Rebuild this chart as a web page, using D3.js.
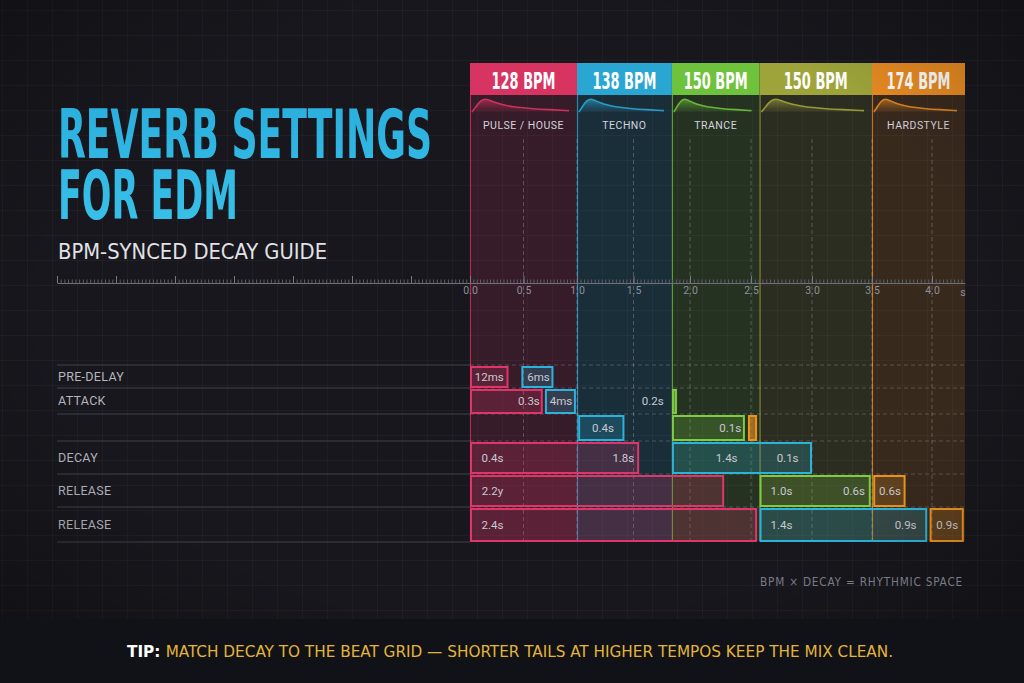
<!DOCTYPE html>
<html><head><meta charset="utf-8">
<script src="https://cdn.jsdelivr.net/npm/d3@7"></script>
<style>
html,body{margin:0;padding:0;background:#17171d;overflow:hidden;}
svg{display:block;}
</style></head><body>
<svg id="chart" width="1024" height="683"></svg>
<script>
// ---------- data ----------
const bpmLabels   = ["128 BPM","138 BPM","150 BPM","150 BPM","174 BPM"];
const genreLabels = ["PULSE / HOUSE","TECHNO","TRANCE","","HARDSTYLE"];
const bandStart   = [0, 1.0, 1.84, 2.57, 3.5];
const bandEnd     = [1.0, 1.84, 2.57, 3.5, 4.28];
const rowLabels   = ["PRE-DELAY","ATTACK","","DECAY","RELEASE","RELEASE"];
const tickValues  = [0,0.5,1,1.5,2,2.5,3,3.5,4];
const tickLabels  = ["0.0","0.5","1.0","1.5","2.0","2.5","3.0","3.5","4.0"];

const barRow   = [0,0,1,1,1,2,2,2,3,3,4,4,4,5,5,5];
const barStart = [0,0.48,0,0.70,1.84,1.01,1.84,2.475,0,1.84,0,2.57,3.51,0,2.57,3.98];
const barEnd   = [0.36,0.78,0.68,0.99,1.87,1.42,2.45,2.55,1.55,3.0,2.28,3.49,3.78,2.55,3.96,4.27];
const barGenre = [0,1,0,1,2,1,2,4,0,1,0,2,4,0,1,4];

const valueRow  = [0,0,1,1,1,2,2,3,3,3,3,4,4,4,4,5,5,5,5];
const valueAt   = [0.18,0.64,0.55,0.85,1.67,1.23,2.33,0.21,1.41,2.30,2.80,0.21,2.75,3.35,3.65,0.21,2.75,3.78,4.13];
const valueText = ["12ms","6ms","0.3s","4ms","0.2s","0.4s","0.1s","0.4s","1.8s","1.4s","0.1s","2.2y","1.0s","0.6s","0.6s","2.4s","1.4s","0.9s","0.9s"];

const envelopeShape = [[0,0],[0.04,0.4],[0.09,0.85],[0.14,1],[0.2,0.82],[0.3,0.55],[0.42,0.38],[0.6,0.26],[0.8,0.17],[1,0.1]];

// ---------- style ----------
const headColors = ["#d73461","#2aa6d2","#6fc23c","#9ea43a","#e88b22"];
const barColors  = ["#e0356b","#2ab4dc","#7dcc41","#a9ae3c","#eb931f"];
const condensed = "'DejaVu Sans Condensed','Liberation Sans Narrow','DejaVu Sans',sans-serif";
const sans = "Roboto,'Noto Sans',sans-serif";

const W = 1024, H = 683;
const svg = d3.select("#chart");
const defs = svg.append("defs");

// scales
const x = d3.scaleLinear()
  .domain([-3.5,0,1,2,3,4,4.28])
  .range([57,470,577,690,812,932,965]);
const y = d3.scaleLinear()
  .domain([0,1,2,3,4,5,6])
  .range([365,388,414,441,474,507,542]);
const bandTop = 95, headTop = 63, bandBottom = 541;

// background
svg.append("rect").attr("width",W).attr("height",H).attr("fill","#17171d");
const vg = defs.append("radialGradient").attr("id","vig").attr("cx","50%").attr("cy","45%").attr("r","75%");
vg.append("stop").attr("offset","0.6").attr("stop-color","#000").attr("stop-opacity",0);
vg.append("stop").attr("offset","1").attr("stop-color","#000").attr("stop-opacity",0.35);
const tg = defs.append("linearGradient").attr("id","titleGrad").attr("x1",0).attr("x2",0).attr("y1",0).attr("y2",1);
tg.append("stop").attr("offset",0).attr("stop-color","#2aaedd");
tg.append("stop").attr("offset",1).attr("stop-color","#3ac2ea");

// background grid
const grid = svg.append("g").attr("stroke","rgba(255,255,255,0.03)").attr("stroke-width",1);
grid.selectAll("line.v").data(d3.range(2, W, 25)).join("line")
  .attr("x1",d=>d+0.5).attr("x2",d=>d+0.5).attr("y1",0).attr("y2",619);
grid.selectAll("line.h").data(d3.range(10, 619, 25)).join("line")
  .attr("x1",0).attr("x2",W).attr("y1",d=>d+0.5).attr("y2",d=>d+0.5);

// bands
const bands = svg.append("g");
bands.selectAll("rect.band").data(bandStart).join("rect")
  .attr("x",(d,i)=>x(d)).attr("y",bandTop)
  .attr("width",(d,i)=>x(bandEnd[i])-x(d)).attr("height",bandBottom-bandTop)
  .attr("fill",(d,i)=>headColors[i]).attr("fill-opacity",0.16);
bands.selectAll("line.edge").data(bandStart).join("line")
  .attr("x1",d=>x(d)+0.5).attr("x2",d=>x(d)+0.5)
  .attr("y1",bandTop).attr("y2",bandBottom)
  .attr("stroke",(d,i)=>headColors[i]).attr("stroke-opacity",0.75).attr("stroke-width",1.2);
// headers
bands.selectAll("rect.head").data(bandStart).join("rect")
  .attr("x",(d,i)=>x(d)).attr("y",headTop)
  .attr("width",(d,i)=>x(bandEnd[i])-x(d)).attr("height",bandTop-headTop)
  .attr("fill",(d,i)=>headColors[i]);
bands.selectAll("text.bpm").data(bpmLabels).join("text")
  .attr("x",(d,i)=>(x(bandStart[i])+x(bandEnd[i]))/2).attr("y",88.5)
  .attr("text-anchor","middle").attr("fill","#fff")
  .attr("font-family",condensed).attr("font-weight","bold").attr("font-size",23)
  .attr("textLength",64).attr("lengthAdjust","spacingAndGlyphs")
  .text(d=>d);

// envelopes
bandStart.forEach((s,i)=>{
  const g = defs.append("linearGradient").attr("id","env"+i).attr("x1",0).attr("x2",0).attr("y1",0).attr("y2",1);
  g.append("stop").attr("offset",0).attr("stop-color",headColors[i]).attr("stop-opacity",0.6);
  g.append("stop").attr("offset",1).attr("stop-color",headColors[i]).attr("stop-opacity",0.05);
  const x0 = x(s)+2, x1 = x(bandEnd[i])-8;
  const ex = d3.scaleLinear().domain([0,1]).range([x0,x1]);
  const ey = d3.scaleLinear().domain([0,1]).range([112,98.5]);
  const area = d3.area().x(d=>ex(d[0])).y0(112).y1(d=>ey(d[1])).curve(d3.curveBasis);
  const line = d3.line().x(d=>ex(d[0])).y(d=>ey(d[1])).curve(d3.curveBasis);
  bands.append("path").datum(envelopeShape).attr("d",area).attr("fill","url(#env"+i+")");
  bands.append("path").datum(envelopeShape).attr("d",line).attr("fill","none")
    .attr("stroke",headColors[i]).attr("stroke-width",1.6).attr("stroke-opacity",0.9);
});
bands.selectAll("text.genre").data(genreLabels).join("text")
  .attr("x",(d,i)=>(x(bandStart[i])+x(bandEnd[i]))/2).attr("y",129)
  .attr("text-anchor","middle").attr("fill","#d4d4db")
  .attr("font-family",sans).attr("font-size",10.5).attr("letter-spacing",0.5)
  .text(d=>d);

// vertical dashed lines at ticks
svg.append("g").selectAll("line").data(tickValues.slice(1)).join("line")
  .attr("x1",d=>x(d)).attr("x2",d=>x(d)).attr("y1",139).attr("y2",bandBottom)
  .attr("stroke","rgba(255,255,255,0.22)").attr("stroke-width",1).attr("stroke-dasharray","4,3");

// ruler axis
const minorVals = d3.range(-3.5, 4.28, 0.03125);
const majorVals = d3.range(-3.5, 4.01, 0.5);
const minorAxis = svg.append("g").attr("transform","translate(0,283)")
  .call(d3.axisTop(x).tickValues(minorVals).tickSize(3.5).tickSizeOuter(0).tickFormat(""));
const majorAxis = svg.append("g").attr("transform","translate(0,283)")
  .call(d3.axisTop(x).tickValues(majorVals).tickSize(7).tickSizeOuter(0).tickFormat(""));
majorAxis.select(".domain").remove();
minorAxis.selectAll(".tick text").remove();
majorAxis.selectAll(".tick text").remove();
minorAxis.select(".domain").attr("stroke","#70707b").attr("stroke-width",1.2);
minorAxis.selectAll(".tick line").attr("stroke","#5f5f6a");
majorAxis.selectAll(".tick line").attr("stroke","#7a7a85");
const labelAxis = svg.append("g").attr("transform","translate(0,285)")
  .call(d3.axisBottom(x).tickValues(tickValues).tickSize(0).tickPadding(2)
    .tickFormat((d,i)=>tickLabels[i]));
labelAxis.select(".domain").remove();
labelAxis.selectAll("text").attr("fill","#8c909a").attr("font-family",sans).attr("font-size",10.5);
svg.append("text").attr("x",963).attr("y",296).attr("text-anchor","middle")
  .attr("fill","#8c909a").attr("font-family",sans).attr("font-size",10.5).text("s");

// row lines
const rowB = d3.range(0,7);
svg.append("g").selectAll("line").data(rowB).join("line")
  .attr("x1",57).attr("x2",470).attr("y1",d=>y(d)).attr("y2",d=>y(d))
  .attr("stroke","#34343d").attr("stroke-width",1.5);
svg.append("g").selectAll("line").data(rowB.slice(0,6)).join("line")
  .attr("x1",470).attr("x2",965).attr("y1",d=>y(d)).attr("y2",d=>y(d))
  .attr("stroke","rgba(255,255,255,0.2)").attr("stroke-width",1).attr("stroke-dasharray","4,3");

// row labels
svg.append("g").selectAll("text").data(rowLabels).join("text")
  .attr("x",58).attr("y",(d,i)=>(y(i)+y(i+1))/2+4)
  .attr("fill","#b5b5bd").attr("font-family",sans).attr("font-size",12.5).attr("letter-spacing",0.3)
  .text(d=>d);

// bars
svg.append("g").selectAll("rect").data(barStart).join("rect")
  .attr("x",(d,i)=>x(d)+1)
  .attr("y",(d,i)=>y(barRow[i])+2)
  .attr("width",(d,i)=>Math.max(3, x(barEnd[i])-x(d)-2))
  .attr("height",(d,i)=>y(barRow[i]+1)-y(barRow[i])-3)
  .attr("fill",(d,i)=>barColors[barGenre[i]])
  .attr("fill-opacity",(d,i)=> (x(barEnd[i])-x(d)) < 12 ? 0.6 : 0.22)
  .attr("stroke",(d,i)=>barColors[barGenre[i]]).attr("stroke-width",2);

// value labels
svg.append("g").selectAll("text").data(valueText).join("text")
  .attr("x",(d,i)=>x(valueAt[i]))
  .attr("y",(d,i)=>(y(valueRow[i])+y(valueRow[i]+1))/2+4)
  .attr("text-anchor","middle").attr("fill","#c9c9d1")
  .attr("font-family",sans).attr("font-size",11.5)
  .text(d=>d);

// vignette
svg.append("rect").attr("width",W).attr("height",H).attr("fill","url(#vig)").attr("pointer-events","none");

// title (one text block, two lines)
const title = svg.append("text").attr("fill","url(#titleGrad)")
  .attr("font-family",condensed).attr("font-weight","bold").attr("font-size",67);
title.append("tspan").attr("x",58).attr("y",158)
  .attr("textLength",374).attr("lengthAdjust","spacingAndGlyphs").text("REVERB SETTINGS");
title.append("tspan").attr("x",58).attr("y",219)
  .attr("textLength",180).attr("lengthAdjust","spacingAndGlyphs").text("FOR EDM");
svg.append("text").attr("x",58).attr("y",259).attr("fill","#e2e2e6")
  .attr("font-family",condensed).attr("font-size",22)
  .attr("textLength",269).attr("lengthAdjust","spacingAndGlyphs").text("BPM-SYNCED DECAY GUIDE");

// formula note
svg.append("text").attr("x",963).attr("y",586).attr("text-anchor","end").attr("fill","#7b7b86")
  .attr("font-family",condensed).attr("font-size",11.5).attr("letter-spacing",0.8)
  .attr("textLength",203).attr("lengthAdjust","spacingAndGlyphs")
  .text("BPM × DECAY = RHYTHMIC SPACE");

// footer
svg.append("rect").attr("x",0).attr("y",619).attr("width",W).attr("height",H-619).attr("fill","#111118");
const tip = svg.append("text").attr("x",127).attr("y",657)
  .attr("font-family",condensed).attr("font-size",16)
  .attr("textLength",766).attr("lengthAdjust","spacingAndGlyphs");
tip.append("tspan").attr("fill","#ffffff").attr("font-weight","bold").text("TIP: ");
tip.append("tspan").attr("fill","#e2b53a").text("MATCH DECAY TO THE BEAT GRID — SHORTER TAILS AT HIGHER TEMPOS KEEP THE MIX CLEAN.");
</script>
</body></html>
